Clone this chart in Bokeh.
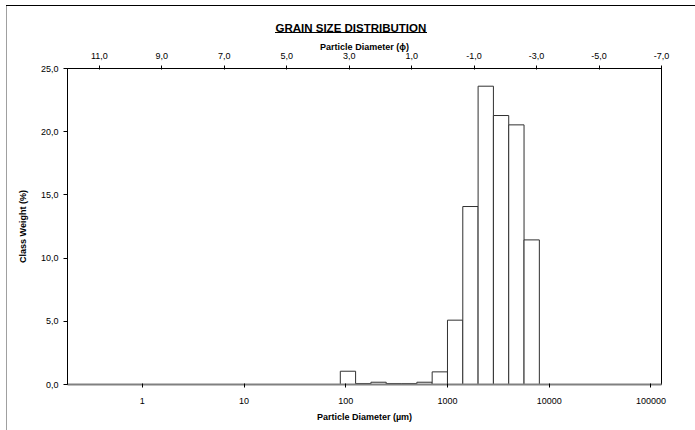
from bokeh.plotting import figure
from bokeh.models import (Range1d, LinearAxis, FixedTicker, ColumnDataSource,
                          LinearScale, InlineStyleSheet)
from bokeh.embed import file_html
from bokeh.resources import INLINE

# ---- data ----
bin_left_um = [88.4, 125.0, 176.8, 250.0, 353.6, 500.0, 707.1, 1000.0, 1414.2, 2000.0, 2828.4, 4000.0, 5656.9]
bin_right_um = [125.0, 176.8, 250.0, 353.6, 500.0, 707.1, 1000.0, 1414.2, 2000.0, 2828.4, 4000.0, 5656.9, 8000.0]
class_weight = [1.05, 0.08, 0.18, 0.08, 0.08, 0.18, 1.0, 5.09, 14.08, 23.6, 21.28, 20.54, 11.44]

y_ticks = [0, 5, 10, 15, 20, 25]
y_tick_labels = ["0,0", "5,0", "10,0", "15,0", "20,0", "25,0"]
um_ticks = [1, 10, 100, 1000, 10000, 100000]
um_tick_labels = ["1", "10", "100", "1000", "10000", "100000"]
phi_ticks = [11, 9, 7, 5, 3, 1, -1, -3, -5, -7]
phi_tick_labels = ["11,0", "9,0", "7,0", "5,0", "3,0", "1,0", "-1,0", "-3,0", "-5,0", "-7,0"]

FONT = "Liberation Sans"

src = ColumnDataSource(dict(left=bin_left_um, right=bin_right_um,
                            top=class_weight, bottom=[0] * len(class_weight)))

p = figure(width=688, height=424, x_axis_type="log",
           x_range=Range1d(0.184, 127000), y_range=Range1d(0, 25),
           output_backend="svg", toolbar_location=None,
           min_border_left=60, min_border_right=35, min_border_top=62, min_border_bottom=46)
p.margin = (6, 0, 0, 6)
p.stylesheets = [InlineStyleSheet(css="""
:host { border-left: 1px solid #a0a0a0 !important; box-sizing: content-box !important; }
:host::before { content: ""; position: fixed; left: 6px; top: 5px; width: 700px; height: 1px;
                background: #000000; z-index: 100; pointer-events: none; }
:host::after { content: ""; position: fixed; left: 275px; top: 32px; width: 152px; height: 1px;
               background: #000000; z-index: 100; pointer-events: none; }
""")]

p.extra_x_ranges = {"phi": Range1d(start=12.02, end=-7.0)}
p.extra_x_scales = {"phi": LinearScale()}

p.quad(left="left", right="right", top="top", bottom="bottom", source=src,
       fill_color="white", line_color="#303030", line_width=1)

p.xgrid.visible = False
p.ygrid.visible = False
p.outline_line_color = "black"
p.outline_line_width = 1
p.background_fill_color = "white"
p.border_fill_alpha = 0.0

# title
p.title.text = "GRAIN SIZE DISTRIBUTION"
p.title.text_font = FONT
p.title.text_font_style = "bold"
p.title.text_font_size = "11.5px"
p.title.align = "left"
p.title.offset = 208
p.title.text_color = "black"

# left axis
ya = p.yaxis[0]
ya.ticker = FixedTicker(ticks=y_ticks)
ya.major_label_overrides = {t: l for t, l in zip(y_ticks, y_tick_labels)}
ya.axis_label = "Class Weight (%)"

# bottom axis
xa = p.xaxis[0]
xa.ticker = FixedTicker(ticks=um_ticks)
xa.major_label_overrides = {t: l for t, l in zip(um_ticks, um_tick_labels)}
xa.axis_label = "Particle Diameter (µm)"
xa.axis_line_color = "#808080"
xa.axis_line_width = 2

# top axis
ta = LinearAxis(x_range_name="phi", ticker=FixedTicker(ticks=phi_ticks),
                axis_label="Particle Diameter (ϕ)")
ta.major_label_overrides = {t: l for t, l in zip(phi_ticks, phi_tick_labels)}
p.add_layout(ta, "above")

for ax in [ya, xa, ta]:
    ax.major_label_text_font = FONT
    ax.major_label_text_font_size = "9px"
    ax.major_label_text_color = "black"
    ax.axis_label_text_font = FONT
    ax.axis_label_text_font_size = "9px"
    ax.axis_label_text_font_style = "bold"
    ax.axis_label_text_color = "black"
    ax.minor_tick_line_color = None
    ax.major_tick_line_color = "black"

ya.major_tick_out = 4
ya.major_tick_in = 0
ya.major_label_standoff = 5
ya.axis_label_standoff = 10
ya.axis_line_color = "black"

xa.major_tick_out = 3
xa.major_tick_in = 1
xa.major_label_standoff = 10
xa.axis_label_standoff = 5

ta.major_tick_out = 3
ta.major_tick_in = 1
ta.major_label_standoff = 7
ta.axis_label_standoff = -2
ta.axis_line_color = "black"

open("out.html", "w").write(file_html(p, INLINE))
